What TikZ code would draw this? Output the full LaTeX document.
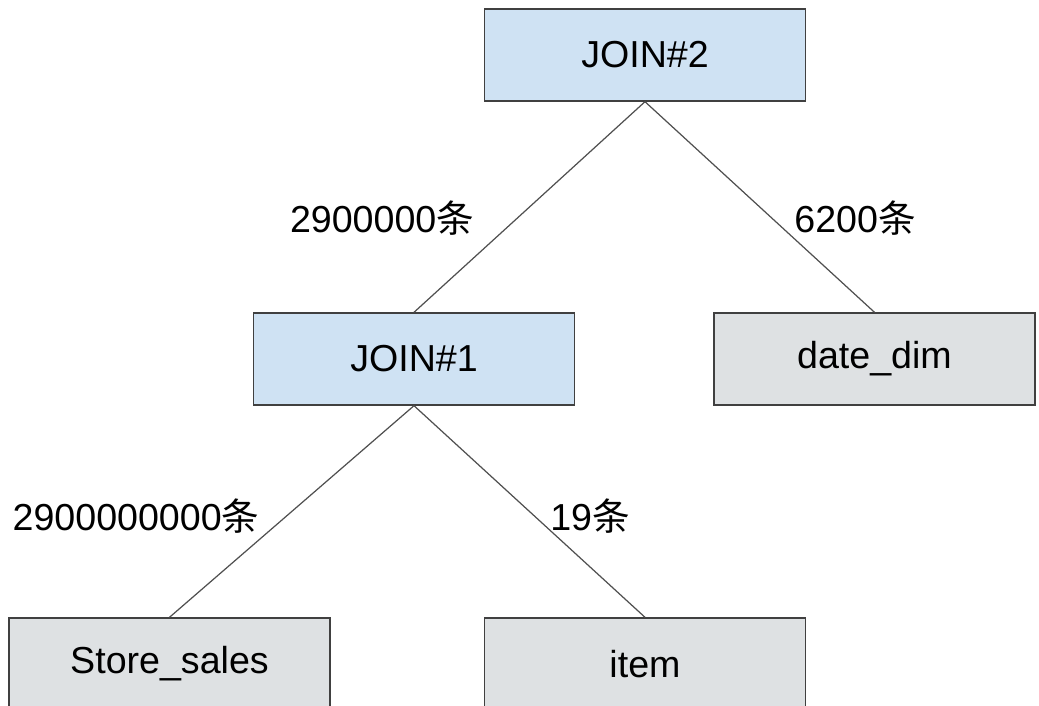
\documentclass[tikz,border=0pt]{standalone}
\usepackage{fontspec}
\setmainfont{Liberation Sans}
\newfontfamily\cjk{Noto Sans CJK SC}
\usetikzlibrary{positioning}
\definecolor{joinblue}{RGB}{207,226,243}
\definecolor{tablegray}{RGB}{222,225,227}
\definecolor{edgegray}{RGB}{80,80,80}
\begin{document}
\begin{tikzpicture}[x=0.02cm, y=-0.02cm,
    box/.style={draw=edgegray!80!black, line width=0.8pt, minimum width=6.42cm, minimum height=1.84cm, font=\fontsize{21.4}{25}\selectfont},
    joinbox/.style={box, fill=joinblue},
    tablebox/.style={box, fill=tablegray},
    edge/.style={draw=edgegray, line width=0.7pt},
    cnt/.style={font=\fontsize{21.4}{25}\selectfont}]
    \useasboundingbox (0,0) rectangle (1039,706);

    % Knoten
    \node[joinbox] (join2) at (645,55) {JOIN\#2};
    \node[joinbox] (join1) at (414,359) {JOIN\#1};
    \node[tablebox] (datedim) at (874.5,359) {date\_dim};
    \node[tablebox] (storesales) at (169.5,664) {Store\_sales};
    \node[tablebox] (item) at (645,664) {item};

    % Kanten
    \draw[edge] (join2.south) -- (join1.north);
    \draw[edge] (join2.south) -- (datedim.north);
    \draw[edge] (join1.south) -- (storesales.north);
    \draw[edge] (join1.south) -- (item.north);

    % Zeilenzahlen
    \node[cnt] (rows21) at (382,218) {2900000{\cjk 条}};
    \node[cnt] (rows22) at (855,218) {6200{\cjk 条}};
    \node[cnt] (rows11) at (136,516) {2900000000{\cjk 条}};
    \node[cnt] (rows12) at (590,516) {19{\cjk 条}};
\end{tikzpicture}
\end{document}
